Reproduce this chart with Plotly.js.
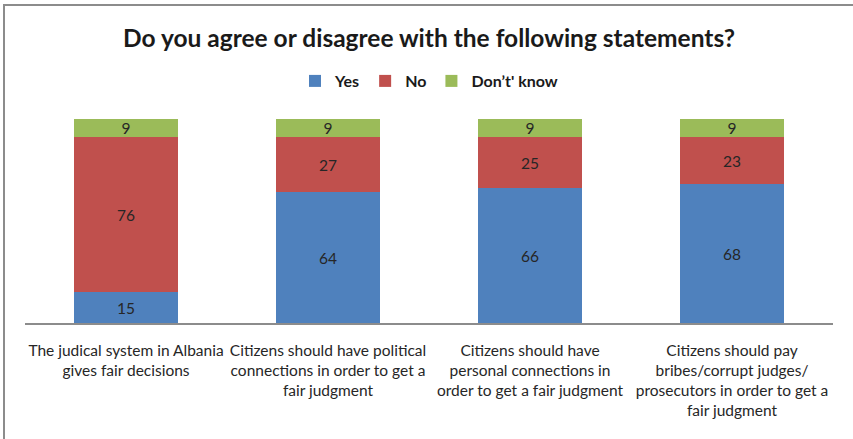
<!DOCTYPE html>
<html>
<head>
<meta charset="utf-8">
<script src="https://cdn.plot.ly/plotly-3.0.1.min.js"></script>
<style>
  html, body { margin: 0; padding: 0; background: #fff; }
  #wrap { position: absolute; left: 0; top: 0; width: 853px; height: 439px; overflow: hidden; }
  #frame { position: absolute; left: 3px; top: 4px; width: 860px; height: 450px; border-top: 2px solid #8c8c8c; border-left: 2px solid #8c8c8c; box-sizing: border-box; pointer-events: none; }
  #chart { position: absolute; left: 0; top: 0; width: 853px; height: 439px; }
</style>
</head>
<body>
<div id="wrap">
  <div id="chart"></div>
  <div id="frame"></div>
</div>
<script>
const categories = [
  "The judical system in Albania<br>gives fair decisions",
  "Citizens should have political<br>connections in order to get a<br>fair judgment",
  "Citizens should have<br>personal connections in<br>order to get a fair judgment",
  "Citizens should pay<br>bribes/corrupt judges/<br>prosecutors in order to get a<br>fair judgment"
];
const seriesNames = ["Yes", "No", "Don\u2019t' know"];
const yesValues = [15, 64, 66, 68];
const noValues = [76, 27, 25, 23];
const dontKnowValues = [9, 9, 9, 9];
const colors = ["#4F81BD", "#C0504D", "#9BBB59"];

const FONT = "Lato, 'Open Sans', sans-serif";
const valueSets = [yesValues, noValues, dontKnowValues];
const traces = valueSets.map((vals, i) => ({
  type: "bar",
  name: seriesNames[i],
  x: categories,
  y: vals,
  text: vals.map(String),
  textposition: "inside",
  insidetextanchor: "middle",
  textangle: 0,
  textfont: { family: FONT, size: 15.5, color: "#262626" },
  marker: { color: colors[i], line: { width: 0 } },
  width: 0.515,
  hoverinfo: "skip"
}));

const layout = {
  width: 853,
  height: 439,
  barmode: "stack",
  paper_bgcolor: "#fff",
  plot_bgcolor: "#fff",
  margin: { l: 25, r: 20, t: 119, b: 116 },
  font: { family: FONT, color: "#262626" },
  title: {
    text: "<b>Do you agree or disagree with the following statements?</b>",
    font: { family: FONT, size: 24.5, color: "#1a1a1a" },
    x: 0.503, xanchor: "center",
    yref: "container", y: 1 - 38 / 439, yanchor: "middle"
  },
  showlegend: true,
  legend: {
    orientation: "h",
    x: 0.5, xanchor: "center",
    yref: "container", y: 1 - 81 / 439, yanchor: "middle",
    font: { family: FONT, size: 16, color: "#1a1a1a", weight: "bold" },
    itemwidth: 30,
    traceorder: "normal"
  },
  uniformtext: { mode: "show", minsize: 15 },
  xaxis: {
    type: "category",
    showline: true,
    linecolor: "#8c8c8c",
    linewidth: 2,
    showgrid: false,
    zeroline: false,
    ticks: "outside",
    ticklen: 12,
    tickcolor: "rgba(0,0,0,0)",
    tickfont: { family: FONT, size: 15.5, color: "#262626" },
    tickangle: 0,
    fixedrange: true
  },
  yaxis: {
    range: [0, 100],
    visible: false,
    showgrid: false,
    zeroline: false,
    fixedrange: true
  }
};

Plotly.newPlot("chart", traces, layout, { displayModeBar: false, staticPlot: true });
</script>
</body>
</html>
